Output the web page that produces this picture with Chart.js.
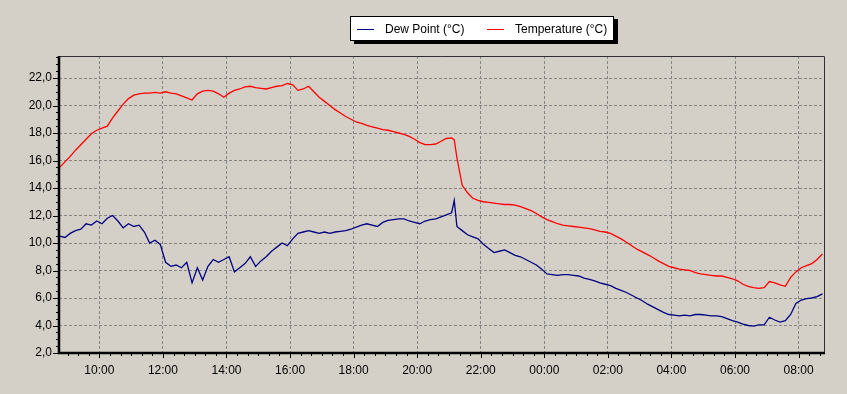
<!DOCTYPE html>
<html>
<head>
<meta charset="utf-8">
<script src="https://cdn.jsdelivr.net/npm/chart.js@4/dist/chart.umd.min.js"></script>
<style>
    html, body { margin: 0; padding: 0; background: #d4d0c8; }
    #wrap { position: relative; width: 847px; height: 394px; }
    #legend {
        position: absolute; left: 350px; top: 16px; width: 262px; height: 23px;
        background: #fff; border: 1px solid #000; box-shadow: 4px 3px 0 #000;
        font: 12px "Liberation Sans", Arial, sans-serif; color: #000;
    }
    #legend .item { position: absolute; top: 5px; white-space: nowrap; }
    #legend .sw { display: inline-block; width: 17px; height: 0; border-top: 1px solid; vertical-align: middle; margin-right: 11px; }
</style>
</head>
<body>
<div id="wrap">
    <canvas id="chart" width="847" height="394"></canvas>
    <div id="legend"></div>
</div>
<script>
// sample times (day wraps after 23:55)
var times = [
    '08:45', '08:55',
    '09:05', '09:15', '09:25', '09:35', '09:45', '09:55',
    '10:05', '10:15', '10:25', '10:35', '10:45', '10:55',
    '11:05', '11:15', '11:25', '11:35', '11:45', '11:55',
    '12:05', '12:15', '12:25', '12:35', '12:45', '12:55',
    '13:05', '13:15', '13:25', '13:35', '13:45', '13:55',
    '14:05', '14:15', '14:25', '14:35', '14:45', '14:55',
    '15:05', '15:15', '15:25', '15:35', '15:45', '15:55',
    '16:05', '16:15', '16:25', '16:35', '16:45', '16:55',
    '17:05', '17:15', '17:25', '17:35', '17:45', '17:55',
    '18:05', '18:15', '18:25', '18:35', '18:45', '18:55',
    '19:05', '19:15', '19:25', '19:35', '19:45', '19:55',
    '20:05', '20:15', '20:25', '20:35', '20:45', '20:55',
    '21:05', '21:10', '21:15', '21:25', '21:35', '21:45', '21:55',
    '22:05', '22:15', '22:25', '22:35', '22:45', '22:55',
    '23:05', '23:15', '23:25', '23:35', '23:45', '23:55',
    '00:05', '00:15', '00:25', '00:35', '00:45', '00:55',
    '01:05', '01:15', '01:25', '01:35', '01:45', '01:55',
    '02:05', '02:15', '02:25', '02:35', '02:45', '02:55',
    '03:05', '03:15', '03:25', '03:35', '03:45', '03:55',
    '04:05', '04:15', '04:25', '04:35', '04:45', '04:55',
    '05:05', '05:15', '05:25', '05:35', '05:45', '05:55',
    '06:05', '06:15', '06:25', '06:35', '06:45', '06:55',
    '07:05', '07:15', '07:25', '07:35', '07:45', '07:55',
    '08:05', '08:15', '08:25', '08:35', '08:45'
];

var dewPoint = [
    10.5, 10.4,
    10.7, 10.9, 11.0, 11.4, 11.3, 11.6,
    11.4, 11.8, 12.0, 11.6, 11.1, 11.4,
    11.2, 11.3, 10.8, 10.0, 10.2, 9.9,
    8.6, 8.3, 8.4, 8.2, 8.6, 7.1,
    8.2, 7.3, 8.3, 8.8, 8.6, 8.8,
    9.0, 7.9, 8.2, 8.5, 9.0, 8.3,
    8.7, 9.0, 9.4, 9.7, 10.0, 9.8,
    10.3, 10.7, 10.8, 10.9, 10.8, 10.7,
    10.8, 10.7, 10.8, 10.85, 10.9, 11.0,
    11.15, 11.3, 11.4, 11.3, 11.2, 11.5,
    11.65, 11.7, 11.75, 11.75, 11.6, 11.5,
    11.4, 11.6, 11.7, 11.75, 11.9, 12.05,
    12.2, 13.1, 11.2, 10.9, 10.6, 10.45, 10.3,
    9.9, 9.6, 9.3, 9.4, 9.5, 9.3,
    9.1, 9.0, 8.8, 8.6, 8.4, 8.1,
    7.75, 7.7, 7.65, 7.7, 7.7, 7.65,
    7.6, 7.45, 7.35, 7.25, 7.1, 7.0,
    6.9, 6.7, 6.55, 6.4, 6.2, 6.0,
    5.8, 5.55, 5.35, 5.15, 4.95, 4.8,
    4.75, 4.7, 4.75, 4.7, 4.8, 4.8,
    4.75, 4.7, 4.7, 4.65, 4.5, 4.35,
    4.25, 4.1, 4.0, 3.95, 4.05, 4.05,
    4.6, 4.4, 4.25, 4.35, 4.8, 5.6,
    5.85, 5.95, 6.0, 6.1, 6.3
];

var temperature = [
    15.5, 15.9,
    16.3, 16.75, 17.15, 17.55, 17.95, 18.2,
    18.35, 18.5, 19.1, 19.6, 20.1, 20.5,
    20.75, 20.85, 20.9, 20.9, 20.95, 20.9,
    21.0, 20.9, 20.85, 20.7, 20.55, 20.4,
    20.85, 21.05, 21.1, 21.05, 20.85, 20.6,
    20.9, 21.1, 21.2, 21.35, 21.4, 21.3,
    21.25, 21.2, 21.3, 21.4, 21.45, 21.6,
    21.5, 21.1, 21.2, 21.4, 21.0, 20.6,
    20.3, 20.0, 19.7, 19.45, 19.2, 19.0,
    18.8, 18.7, 18.55, 18.45, 18.35, 18.25,
    18.2, 18.1, 18.0, 17.9, 17.75, 17.55,
    17.3, 17.15, 17.15, 17.2, 17.4, 17.6,
    17.65, 17.5, 16.2, 14.2, 13.65, 13.25, 13.1,
    13.0, 12.95, 12.9, 12.85, 12.8, 12.8,
    12.75, 12.65, 12.5, 12.35, 12.15, 11.9,
    11.7, 11.55, 11.4, 11.3, 11.25, 11.2,
    11.15, 11.1, 11.05, 10.95, 10.85, 10.8,
    10.7, 10.5, 10.3, 10.05, 9.8, 9.55,
    9.35, 9.15, 8.95, 8.7, 8.5, 8.3,
    8.2, 8.1, 8.05, 8.0, 7.85, 7.75,
    7.7, 7.65, 7.6, 7.6, 7.5, 7.4,
    7.25, 7.0, 6.85, 6.75, 6.7, 6.75,
    7.2, 7.1, 6.95, 6.85, 7.5, 7.9,
    8.2, 8.35, 8.5, 8.8, 9.2
];

var xTickLabels = ['10:00', '12:00', '14:00', '16:00', '18:00', '20:00', '22:00', '00:00', '02:00', '04:00', '06:00', '08:00'];
var yTicks = [2, 4, 6, 8, 10, 12, 14, 16, 18, 20, 22];

var seriesNames = ['Dew Point (°C)', 'Temperature (°C)'];
var seriesColors = ['#000080', '#ff0000'];

// time strings -> hours, continuing past midnight
function toHours(list) {
    var out = [];
    var prev = -1;
    var add = 0;
    list.forEach(function (s) {
        var p = s.split(':');
        var h = Number(p[0]) + Number(p[1]) / 60;
        if (h + add < prev) add += 24;
        prev = h + add;
        out.push(h + add);
    });
    return out;
}

var hours = toHours(times);
var tickHours = toHours(xTickLabels);

function pairs(vals) {
    return vals.map(function (v, i) { return { x: hours[i], y: v }; });
}

var X_MIN = 8.73, X_MAX = 32.8;
var Y_MIN = 2, Y_MAX = 23.6;

// frame, axis lines and the small tick marks
var framePlugin = {
    id: 'frame',
    afterDraw: function (chart) {
        var ctx = chart.ctx;
        var a = chart.chartArea;
        var xs = chart.scales.x, ys = chart.scales.y;
        ctx.save();
        ctx.strokeStyle = '#303030';
        ctx.lineWidth = 1;
        ctx.beginPath();
        ctx.moveTo(a.left, a.top + 0.5);
        ctx.lineTo(a.right + 0.5, a.top + 0.5);
        ctx.lineTo(a.right + 0.5, a.bottom);
        ctx.stroke();

        ctx.strokeStyle = '#000';
        ctx.beginPath();
        // x minor ticks every 20 min
        for (var m = Math.ceil(X_MIN * 3); m <= X_MAX * 3; m++) {
            var px = Math.round(xs.getPixelForValue(m / 3)) + 0.5;
            var len = (m % 6 === 0) ? 5 : 3;
            ctx.moveTo(px, a.bottom);
            ctx.lineTo(px, a.bottom + len);
        }
        // y ticks every 0.5
        for (var v = Y_MIN; v <= Y_MAX; v += 0.5) {
            var py = Math.round(ys.getPixelForValue(v)) + 0.5;
            var l2 = (v % 2 === 0) ? 6 : 3;
            ctx.moveTo(a.left - l2, py);
            ctx.lineTo(a.left, py);
        }
        ctx.stroke();

        ctx.lineWidth = 2.5;
        ctx.beginPath();
        ctx.moveTo(a.left, a.top);
        ctx.lineTo(a.left, a.bottom);
        ctx.lineTo(a.right + 1, a.bottom);
        ctx.stroke();
        ctx.restore();
    }
};

var ctx = document.getElementById('chart');
var chart = new Chart(ctx, {
    type: 'line',
    data: {
        datasets: [
            { label: seriesNames[0], data: pairs(dewPoint), borderColor: seriesColors[0], borderWidth: 1.3 },
            { label: seriesNames[1], data: pairs(temperature), borderColor: seriesColors[1], borderWidth: 1.3 }
        ]
    },
    options: {
        responsive: false,
        animation: false,
        devicePixelRatio: 1,
        layout: { padding: { top: 56, right: 23, left: 0, bottom: 0 } },
        elements: { point: { radius: 0 }, line: { tension: 0 } },
        plugins: { legend: { display: false }, tooltip: { enabled: false } },
        scales: {
            x: {
                type: 'linear',
                min: X_MIN,
                max: X_MAX,
                afterBuildTicks: function (s) {
                    s.ticks = tickHours.map(function (h) { return { value: h }; });
                },
                afterFit: function (s) { s.height = 41; },
                ticks: {
                    autoSkip: false,
                    maxRotation: 0,
                    padding: 10,
                    color: '#000',
                    font: { family: '"Liberation Sans", Arial, sans-serif', size: 12 },
                    callback: function (val) {
                        var i = tickHours.indexOf(val);
                        return i >= 0 ? xTickLabels[i] : '';
                    }
                },
                grid: { color: '#858585', drawTicks: false, lineWidth: 1 },
                border: { display: false, dash: [3, 2] }
            },
            y: {
                min: Y_MIN,
                max: Y_MAX,
                afterBuildTicks: function (s) {
                    s.ticks = yTicks.map(function (v) { return { value: v }; });
                },
                afterFit: function (s) { s.width = 59; },
                ticks: {
                    padding: 7,
                    color: '#000',
                    font: { family: '"Liberation Sans", Arial, sans-serif', size: 12 },
                    callback: function (val) { return Number(val).toFixed(1).replace('.', ','); }
                },
                grid: { color: '#858585', drawTicks: false, lineWidth: 1 },
                border: { display: false, dash: [3, 2] }
            }
        }
    },
    plugins: [framePlugin]
});

// legend box
var legendEl = document.getElementById('legend');
var legendLeft = [6, 136];
seriesNames.forEach(function (name, i) {
    var item = document.createElement('span');
    item.className = 'item';
    item.style.left = legendLeft[i] + 'px';
    var sw = document.createElement('span');
    sw.className = 'sw';
    sw.style.borderTopColor = seriesColors[i];
    item.appendChild(sw);
    item.appendChild(document.createTextNode(name));
    legendEl.appendChild(item);
});
</script>
</body>
</html>
